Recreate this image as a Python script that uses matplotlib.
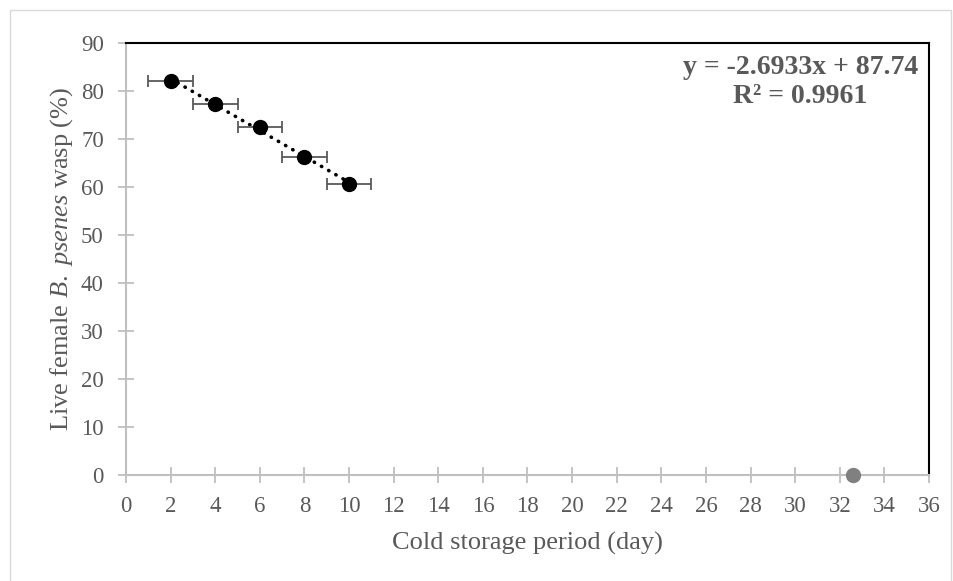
import matplotlib
matplotlib.use("Agg")
import matplotlib.pyplot as plt
from matplotlib.patches import Rectangle
import numpy as np

# Survival of female wasps after cold storage
days = [2, 4, 6, 8, 10]
live_pct = [82.1, 77.3, 72.5, 66.3, 60.6]
day_err = [1, 1, 1, 1, 1]

# Extrapolated zero-survival point
zero_day = [32.6]
zero_pct = [0]

x_ticks = list(range(0, 37, 2))
y_ticks = list(range(0, 91, 10))

plt.rcParams["font.family"] = ["Liberation Serif", "DejaVu Serif"]
plt.rcParams["mathtext.fontset"] = "custom"
plt.rcParams["mathtext.rm"] = "Liberation Serif"
plt.rcParams["mathtext.it"] = "Liberation Serif:italic"

text_col = "#595959"
axis_col = "#bfbfbf"

fig = plt.figure(figsize=(9.54, 5.81), dpi=100)
fig.patches.append(Rectangle((10 / 954, -0.01), 941 / 954, 1 - 10 / 581 + 0.01,
                             transform=fig.transFigure, fill=False,
                             edgecolor="#d9d9d9", linewidth=1))

ax = fig.add_axes([126 / 954, 1 - 475 / 581, 803 / 954, 432 / 581])

# Linear trend line
coef = np.polyfit(days, live_pct, 1)
xs = np.array([days[0], days[-1]])
ax.plot(xs, np.polyval(coef, xs), color="black", linewidth=2.6,
        linestyle=(0, (0.1, 2.2)), dash_capstyle="round", zorder=3)

ax.errorbar(days, live_pct, xerr=day_err, fmt="o", color="black",
            markersize=10, ecolor="#595959", elinewidth=1.3, capsize=4.5,
            capthick=1.3, zorder=4)
ax.plot(zero_day, zero_pct, "o", color="#808080", markersize=10,
        clip_on=False, zorder=5)

ax.set_xlim(0, 36)
ax.set_ylim(0, 90)
ax.set_xticks(x_ticks)
ax.set_yticks(y_ticks)

for side in ("top", "right"):
    ax.spines[side].set_color("black")
    ax.spines[side].set_linewidth(1.5)
for side in ("left", "bottom"):
    ax.spines[side].set_color(axis_col)
    ax.spines[side].set_linewidth(1.5)

ax.tick_params(axis="both", direction="inout", length=12, width=1.3,
               color=axis_col, labelcolor=text_col, labelsize=16.5)
ax.tick_params(axis="y", pad=10)
ax.tick_params(axis="x", pad=9)
ax.tick_params(top=False, right=False)

ax.set_xlabel("Cold storage period (day)", fontsize=19, color=text_col, labelpad=11)
ax.set_ylabel(r"Live female $\mathit{B.\ psenes}$ wasp (%)", fontsize=19,
              color=text_col)
ax.yaxis.set_label_coords(-0.063, 0.5)

ax.text(0.9865, 0.972, "y = -2.6933x + 87.74\nR² = 0.9961", transform=ax.transAxes,
        ha="right", va="top", multialignment="center", fontsize=20,
        fontweight="bold", color=text_col, linespacing=1.18)

fig.savefig("out.png", dpi=100)
